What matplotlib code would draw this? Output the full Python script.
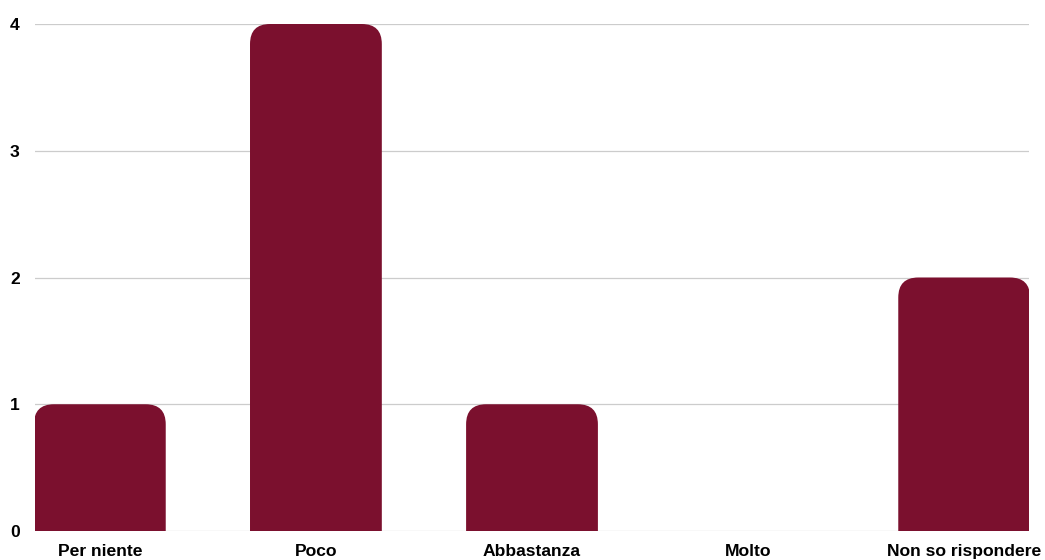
import numpy as np
import matplotlib.pyplot as plt
from matplotlib.patches import FancyBboxPatch

plt.rcParams['font.family'] = ['Liberation Sans', 'DejaVu Sans']

categories = ['Per niente', 'Poco', 'Abbastanza', 'Molto', 'Non so rispondere']
counts = [1, 4, 1, 0, 2]

BAR_COLOR = '#7b102e'
W, H, DPI = 1045, 560, 100

fig = plt.figure(figsize=(W / DPI, H / DPI), dpi=DPI)
ax = fig.add_axes([35 / W, 29 / H, (1029 - 35) / W, (531 - 24) / H])

bar_w = 0.61
ax.set_xlim(-0.3, len(categories) - 0.7)
ax.set_ylim(0, 4)

# pixels per data unit, used to keep the corner round
px_x = (1029 - 35) / (len(categories) - 0.4)
px_y = (531 - 24) / 4.0
r_px = 20
r_x = r_px / px_x
aspect = px_x / px_y
r_y = r_x * aspect

for i, v in enumerate(counts):
    if v <= 0:
        continue
    # start below zero so the lower corners are clipped away
    patch = FancyBboxPatch((i - bar_w / 2, -r_y * 2), bar_w, v + r_y * 2,
                           boxstyle='round,pad=0,rounding_size=%f' % r_x,
                           mutation_aspect=aspect,
                           facecolor=BAR_COLOR, edgecolor='none', zorder=3)
    ax.add_patch(patch)

ax.set_yticks([0, 1, 2, 3, 4])
ax.set_xticks(range(len(categories)))
ax.set_xticklabels(categories, fontsize=12.6, fontweight='bold')
for lab in ax.get_yticklabels():
    lab.set_fontsize(12.6)
    lab.set_fontweight('bold')
ax.tick_params(length=0, pad=11)
ax.tick_params(axis='x', pad=9.5)
ax.grid(axis='y', color='#cccccc', linewidth=0.9, zorder=0)
for s in ax.spines.values():
    s.set_visible(False)

fig.savefig('out.png', dpi=DPI)
